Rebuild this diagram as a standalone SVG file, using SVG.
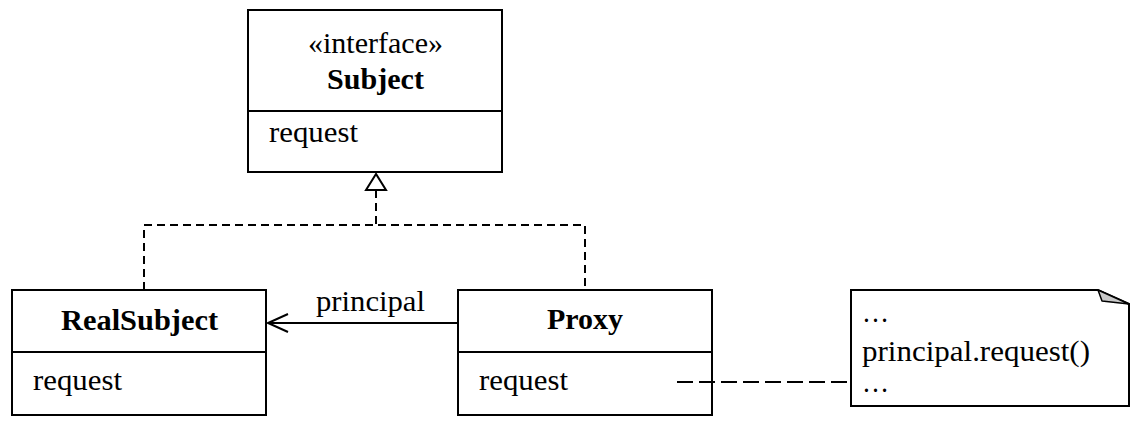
<svg xmlns="http://www.w3.org/2000/svg" width="1141" height="424" viewBox="0 0 1141 424">
<style>
.box{fill:#fff;stroke:#000;stroke-width:2}
.ln{fill:none;stroke:#000;stroke-width:2}
.dash{fill:none;stroke:#000;stroke-width:2;stroke-dasharray:8 5}
.ndash{fill:none;stroke:#000;stroke-width:2;stroke-dasharray:16 6}
text{font-family:"Liberation Serif","Times New Roman",serif;font-size:30px;fill:#000}
.b{font-weight:bold}
</style>
<rect width="1141" height="424" fill="#fff"/>
<g id="Subject">
<rect class="box" x="248" y="10" width="254" height="162"/>
<line class="ln" x1="248" y1="111" x2="502" y2="111"/>
<text x="308" y="53" textLength="135" lengthAdjust="spacingAndGlyphs">«interface»</text>
<text class="b" x="327" y="89" textLength="97" lengthAdjust="spacingAndGlyphs">Subject</text>
<text x="269" y="142" textLength="89" lengthAdjust="spacingAndGlyphs">request</text>
</g>
<g id="RealSubject">
<rect class="box" x="12" y="290" width="254" height="125"/>
<line class="ln" x1="12" y1="352" x2="266" y2="352"/>
<text class="b" x="61" y="330" textLength="157" lengthAdjust="spacingAndGlyphs">RealSubject</text>
<text x="33" y="390" textLength="89" lengthAdjust="spacingAndGlyphs">request</text>
</g>
<g id="Proxy">
<rect class="box" x="458" y="290" width="254" height="125"/>
<line class="ln" x1="458" y1="352" x2="712" y2="352"/>
<text class="b" x="547" y="329" textLength="76" lengthAdjust="spacingAndGlyphs">Proxy</text>
<text x="479" y="390" textLength="89" lengthAdjust="spacingAndGlyphs">request</text>
</g>
<g id="Note">
<path class="box" d="M851,290 H1098 L1129,304 V406 H851 Z"/>
<path d="M1098,290 L1129,304 L1102,301 Z" fill="#c8c8c8" stroke="#000" stroke-width="1.5" stroke-linejoin="round"/>
<text x="862" y="322" textLength="27" lengthAdjust="spacingAndGlyphs">…</text>
<text x="862" y="361" textLength="228" lengthAdjust="spacingAndGlyphs">principal.request()</text>
<text x="862" y="392" textLength="27" lengthAdjust="spacingAndGlyphs">…</text>
</g>
<g id="connectors">
<polyline class="dash" points="376,190 376,225"/>
<polyline class="dash" points="144,290 144,225 585,225 585,290"/>
<polygon points="376,174 366,190 386,190" fill="#fff" stroke="#000" stroke-width="2"/>
<line class="ln" x1="458" y1="323" x2="268" y2="323"/>
<polyline class="ln" points="288,314 268,323 288,332"/>
<text x="316" y="311" textLength="109" lengthAdjust="spacingAndGlyphs">principal</text>
<line class="ndash" x1="677" y1="382" x2="851" y2="382"/>
</g>
</svg>
